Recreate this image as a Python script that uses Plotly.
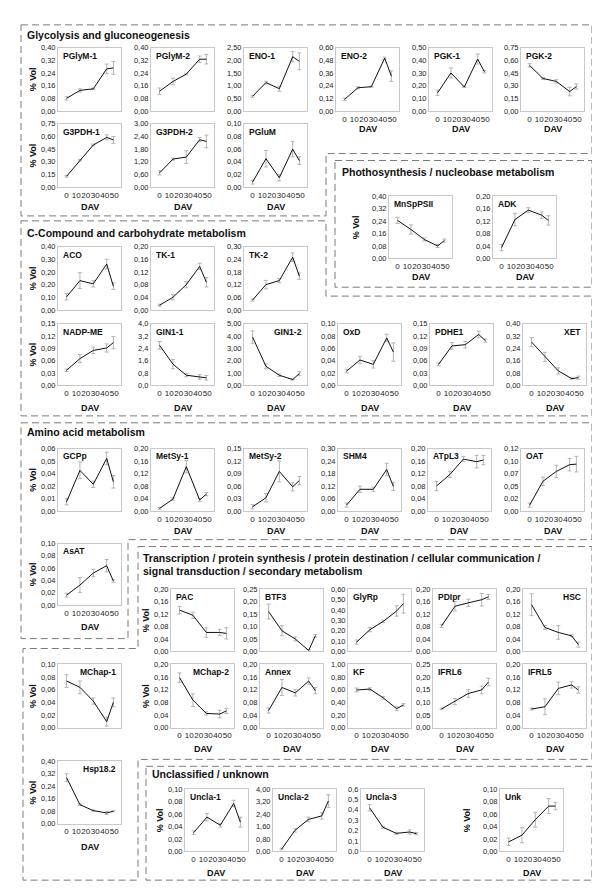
import plotly.graph_objects as go

W, H = 600, 891
DAV = [0, 14, 28, 42, 49]
DAV_TICKS = [0, 10, 20, 30, 40, 50]
DAV_LABELS = ["0", "10", "20", "30", "40", "50"]

# ---------------- data (% Vol, mean and error) ----------------
pglym1_y = [0.08, 0.13, 0.14, 0.266, 0.272]
pglym1_e = [0.01, 0.01, 0.004, 0.03, 0.04]
pglym1_t = ["0,00", "0,08", "0,16", "0,24", "0,32", "0,40"]
pglym1_max = 0.40

pglym2_y = [0.125, 0.186, 0.233, 0.327, 0.327]
pglym2_e = [0.02, 0.02, 0.005, 0.02, 0.03]
pglym2_t = ["0,00", "0,08", "0,16", "0,24", "0,32", "0,40"]
pglym2_max = 0.40

eno1_y = [0.58, 1.12, 0.88, 2.14, 1.96]
eno1_e = [0.04, 0.05, 0.1, 0.2, 0.33]
eno1_t = ["0,00", "0,50", "1,00", "1,50", "2,00", "2,50"]
eno1_max = 2.50

eno2_y = [0.11, 0.22, 0.23, 0.50, 0.33]
eno2_e = [0.012, 0.01, 0.004, 0.01, 0.05]
eno2_t = ["0,00", "0,12", "0,24", "0,36", "0,48", "0,60"]
eno2_max = 0.60

pgk1_y = [0.144, 0.30, 0.19, 0.41, 0.31]
pgk1_e = [0.02, 0.04, 0.005, 0.04, 0.01]
pgk1_t = ["0,00", "0,10", "0,20", "0,30", "0,40", "0,50"]
pgk1_max = 0.50

pgk2_y = [0.54, 0.385, 0.35, 0.23, 0.29]
pgk2_e = [0.02, 0.01, 0.02, 0.05, 0.03]
pgk2_t = ["0,00", "0,15", "0,30", "0,45", "0,60", "0,75"]
pgk2_max = 0.75

g3pdh1_y = [0.13, 0.32, 0.50, 0.59, 0.56]
g3pdh1_e = [0.01, 0.01, 0.01, 0.03, 0.04]
g3pdh1_t = ["0,00", "0,15", "0,30", "0,45", "0,60", "0,75"]
g3pdh1_max = 0.75

g3pdh2_y = [0.68, 1.33, 1.43, 2.25, 2.17]
g3pdh2_e = [0.1, 0.05, 0.3, 0.1, 0.3]
g3pdh2_t = ["0,00", "0,60", "1,20", "1,80", "2,40", "3,00"]
g3pdh2_max = 3.00

pglum_y = [0.008, 0.045, 0.015, 0.06, 0.042]
pglum_e = [0.003, 0.013, 0.005, 0.012, 0.006]
pglum_t = ["0,00", "0,02", "0,04", "0,06", "0,08", "0,10"]
pglum_max = 0.10

mnsp_y = [0.244, 0.186, 0.122, 0.08, 0.115]
mnsp_e = [0.02, 0.03, 0.01, 0.01, 0.01]
mnsp_t = ["0,00", "0,08", "0,16", "0,24", "0,32", "0,40"]
mnsp_max = 0.40

adk_y = [0.035, 0.125, 0.155, 0.139, 0.122]
adk_e = [0.01, 0.02, 0.008, 0.01, 0.015]
adk_t = ["0,00", "0,04", "0,08", "0,12", "0,16", "0,20"]
adk_max = 0.20

aco_y = [0.083, 0.185, 0.165, 0.29, 0.15]
aco_e = [0.02, 0.05, 0.02, 0.03, 0.02]
aco_t = ["0,00", "0,10", "0,20", "0,20", "0,30", "0,40"]
aco_max = 0.40

tk1_y = [0.015, 0.04, 0.08, 0.1375, 0.0875]
tk1_e = [0.003, 0.008, 0.01, 0.01, 0.015]
tk1_t = ["0,00", "0,04", "0,08", "0,12", "0,16", "0,20"]
tk1_max = 0.20

tk2_y = [0.047, 0.12, 0.139, 0.25, 0.16]
tk2_e = [0.005, 0.02, 0.01, 0.02, 0.015]
tk2_t = ["0,00", "0,06", "0,12", "0,18", "0,24", "0,30"]
tk2_max = 0.30

nadp_y = [0.0365, 0.065, 0.085, 0.091, 0.104]
nadp_e = [0.003, 0.01, 0.008, 0.01, 0.015]
nadp_t = ["0,00", "0,03", "0,06", "0,09", "0,12", "0,15"]
nadp_max = 0.15

gin11_y = [2.6, 1.37, 0.65, 0.54, 0.48]
gin11_e = [0.25, 0.3, 0.1, 0.15, 0.15]
gin11_t = ["0,0", "0,8", "1,6", "2,4", "3,2", "4,0"]
gin11_max = 4.0

gin12_y = [3.92, 1.54, 0.81, 0.46, 0.95]
gin12_e = [0.5, 0.2, 0.1, 0.05, 0.15]
gin12_t = ["0,00", "1,00", "2,00", "3,00", "4,00", "5,00"]
gin12_max = 5.00

oxd_y = [0.023, 0.041, 0.034, 0.077, 0.054]
oxd_e = [0.003, 0.006, 0.006, 0.006, 0.015]
oxd_t = ["0,00", "0,02", "0,04", "0,06", "0,08", "0,10"]
oxd_max = 0.10

pdhe1_y = [0.051, 0.096, 0.099, 0.124, 0.109]
pdhe1_e = [0.003, 0.008, 0.008, 0.008, 0.004]
pdhe1_t = ["0,00", "0,03", "0,06", "0,09", "0,12", "0,15"]
pdhe1_max = 0.15

xet_y = [0.281, 0.184, 0.093, 0.043, 0.049]
xet_e = [0.03, 0.03, 0.02, 0.005, 0.01]
xet_t = ["0,00", "0,08", "0,16", "0,24", "0,32", "0,40"]
xet_max = 0.40

gcpp_y = [0.0088, 0.039, 0.0256, 0.0505, 0.028]
gcpp_e = [0.003, 0.008, 0.003, 0.006, 0.006]
gcpp_t = ["0,00", "0,01", "0,02", "0,04", "0,05", "0,06"]
gcpp_max = 0.06

metsy1_y = [0.008, 0.038, 0.142, 0.035, 0.054]
metsy1_e = [0.003, 0.004, 0.02, 0.005, 0.005]
metsy1_t = ["0,00", "0,04", "0,08", "0,12", "0,16", "0,20"]
metsy1_max = 0.20

metsy2_y = [0.01, 0.0316, 0.095, 0.058, 0.073]
metsy2_e = [0.005, 0.01, 0.025, 0.01, 0.01]
metsy2_t = ["0,00", "0,03", "0,06", "0,09", "0,12", "0,15"]
metsy2_max = 0.15

shm4_y = [0.028, 0.104, 0.104, 0.199, 0.118]
shm4_e = [0.01, 0.015, 0.01, 0.03, 0.02]
shm4_t = ["0,00", "0,06", "0,12", "0,18", "0,24", "0,30"]
shm4_max = 0.30

atpl3_y = [0.08, 0.117, 0.166, 0.158, 0.163]
atpl3_e = [0.015, 0.01, 0.008, 0.02, 0.015]
atpl3_t = ["0,00", "0,04", "0,08", "0,12", "0,16", "0,20"]
atpl3_max = 0.20

oat_y = [0.011, 0.057, 0.076, 0.089, 0.090]
oat_e = [0.004, 0.008, 0.012, 0.012, 0.015]
oat_t = ["0,00", "0,02", "0,05", "0,07", "0,10", "0,12"]
oat_max = 0.12

asat_y = [0.016, 0.0324, 0.052, 0.064, 0.039]
asat_e = [0.003, 0.012, 0.006, 0.01, 0.002]
asat_t = ["0,00", "0,02", "0,04", "0,06", "0,08", "0,10"]
asat_max = 0.10

pac_y = [0.1326, 0.116, 0.061, 0.061, 0.058]
pac_e = [0.012, 0.01, 0.015, 0.01, 0.018]
pac_t = ["0,00", "0,04", "0,08", "0,12", "0,16", "0,20"]
pac_max = 0.20

btf3_y = [0.16, 0.083, 0.05, 0.004, 0.063]
btf3_e = [0.03, 0.02, 0.008, 0.003, 0.005]
btf3_t = ["0,00", "0,05", "0,10", "0,15", "0,20", "0,25"]
btf3_max = 0.25

glyrp_y = [0.09, 0.21, 0.29, 0.39, 0.46]
glyrp_e = [0.02, 0.02, 0.01, 0.05, 0.09]
glyrp_t = ["0,00", "0,10", "0,20", "0,30", "0,40", "0,50", "0,60"]
glyrp_max = 0.60

pdipr_y = [0.082, 0.145, 0.156, 0.166, 0.175]
pdipr_e = [0.005, 0.015, 0.012, 0.02, 0.008]
pdipr_t = ["0,00", "0,04", "0,08", "0,12", "0,16", "0,20"]
pdipr_max = 0.20

hsc_y = [0.15, 0.077, 0.061, 0.05, 0.022]
hsc_e = [0.035, 0.006, 0.022, 0.003, 0.008]
hsc_t = ["0,00", "0,04", "0,08", "0,12", "0,16", "0,20"]
hsc_max = 0.20

mchap1_y = [0.0737, 0.0637, 0.042, 0.0095, 0.04]
mchap1_e = [0.01, 0.01, 0.005, 0.007, 0.007]
mchap1_t = ["0,00", "0,02", "0,04", "0,06", "0,08", "0,10"]
mchap1_max = 0.10

mchap2_y = [0.158, 0.087, 0.045, 0.043, 0.053]
mchap2_e = [0.015, 0.02, 0.005, 0.012, 0.008]
mchap2_t = ["0,00", "0,04", "0,08", "0,12", "0,16", "0,20"]
mchap2_max = 0.20

annex_y = [0.054, 0.127, 0.11, 0.147, 0.117]
annex_e = [0.008, 0.025, 0.01, 0.01, 0.01]
annex_t = ["0,00", "0,04", "0,08", "0,12", "0,16", "0,20"]
annex_max = 0.20

kf_y = [0.595, 0.61, 0.47, 0.30, 0.36]
kf_e = [0.03, 0.02, 0.02, 0.03, 0.02]
kf_t = ["0,00", "0,20", "0,40", "0,60", "0,80", "1,00"]
kf_max = 1.00

ifrl6_y = [0.074, 0.103, 0.135, 0.149, 0.18]
ifrl6_e = [0.003, 0.012, 0.015, 0.015, 0.015]
ifrl6_t = ["0,00", "0,05", "0,10", "0,15", "0,20", "0,25"]
ifrl6_max = 0.25

ifrl5_y = [0.059, 0.066, 0.124, 0.135, 0.119]
ifrl5_e = [0.003, 0.025, 0.02, 0.01, 0.01]
ifrl5_t = ["0,00", "0,04", "0,08", "0,12", "0,16", "0,20"]
ifrl5_max = 0.20

hsp_y = [0.295, 0.122, 0.084, 0.069, 0.08]
hsp_e = [0.025, 0.005, 0.004, 0.01, 0.003]
hsp_t = ["0,00", "0,08", "0,16", "0,24", "0,32", "0,40"]
hsp_max = 0.40

uncla1_y = [0.03, 0.055, 0.042, 0.077, 0.047]
uncla1_e = [0.003, 0.006, 0.003, 0.005, 0.008]
uncla1_t = ["0,00", "0,02", "0,04", "0,06", "0,08", "0,10"]
uncla1_max = 0.10

uncla2_y = [0.15, 1.35, 2.05, 2.28, 3.23]
uncla2_e = [0.05, 0.1, 0.15, 0.2, 0.4]
uncla2_t = ["0,00", "0,80", "1,60", "2,40", "3,20", "4,00"]
uncla2_max = 4.00

uncla3_y = [0.42, 0.233, 0.174, 0.187, 0.171]
uncla3_e = [0.03, 0.01, 0.01, 0.02, 0.01]
uncla3_t = ["0,0", "0,1", "0,2", "0,3", "0,4", "0,5", "0,6"]
uncla3_max = 0.6

unk_y = [0.0153, 0.026, 0.051, 0.0727, 0.0727]
unk_e = [0.006, 0.012, 0.012, 0.012, 0.006]
unk_t = ["0,00", "0,02", "0,04", "0,06", "0,08", "0,10"]
unk_max = 0.10

# ---------------- layout (pixels) ----------------
PW = 63
# row: (top, bottom, DAV label y)
R_G1 = (36, 100, 118)
R_G2 = (113, 177, 197)
R_PH = (186, 249, 268)
R_C1 = (237, 301, 320)
R_C2 = (315, 377, 400)
R_A1 = (441, 504, 524)
R_AS = (537, 599, 621)
R_T1 = (583, 646, 665)
R_T2 = (659, 723, 745)
R_HS = (757, 820, 844)
R_UN = (785, 848, 870)

# (title, y, err, ticks, ymax, left, row, show x labels, ylabel x offset or None, title align)
panels = [
    ("PGlyM-1", pglym1_y, pglym1_e, pglym1_t, pglym1_max, 50, R_G1, False, 25, "l"),
    ("PGlyM-2", pglym2_y, pglym2_e, pglym2_t, pglym2_max, 143, R_G1, False, None, "l"),
    ("ENO-1", eno1_y, eno1_e, eno1_t, eno1_max, 236, R_G1, False, None, "l"),
    ("ENO-2", eno2_y, eno2_e, eno2_t, eno2_max, 328, R_G1, True, None, "l"),
    ("PGK-1", pgk1_y, pgk1_e, pgk1_t, pgk1_max, 421, R_G1, True, None, "l"),
    ("PGK-2", pgk2_y, pgk2_e, pgk2_t, pgk2_max, 513, R_G1, True, None, "l"),
    ("G3PDH-1", g3pdh1_y, g3pdh1_e, g3pdh1_t, g3pdh1_max, 50, R_G2, True, 25, "l"),
    ("G3PDH-2", g3pdh2_y, g3pdh2_e, g3pdh2_t, g3pdh2_max, 143, R_G2, True, None, "l"),
    ("PGluM", pglum_y, pglum_e, pglum_t, pglum_max, 236, R_G2, True, None, "l"),
    ("MnSpPSII", mnsp_y, mnsp_e, mnsp_t, mnsp_max, 381, R_PH, True, 33, "l"),
    ("ADK", adk_y, adk_e, adk_t, adk_max, 485, R_PH, True, None, "l"),
    ("ACO", aco_y, aco_e, aco_t, aco_max, 50, R_C1, False, 25, "l"),
    ("TK-1", tk1_y, tk1_e, tk1_t, tk1_max, 143, R_C1, False, None, "l"),
    ("TK-2", tk2_y, tk2_e, tk2_t, tk2_max, 236, R_C1, False, None, "l"),
    ("NADP-ME", nadp_y, nadp_e, nadp_t, nadp_max, 50, R_C2, True, 25, "l"),
    ("GIN1-1", gin11_y, gin11_e, gin11_t, gin11_max, 143, R_C2, True, None, "l"),
    ("GIN1-2", gin12_y, gin12_e, gin12_t, gin12_max, 236, R_C2, True, None, "r"),
    ("OxD", oxd_y, oxd_e, oxd_t, oxd_max, 330, R_C2, True, None, "l"),
    ("PDHE1", pdhe1_y, pdhe1_e, pdhe1_t, pdhe1_max, 422, R_C2, True, None, "l"),
    ("XET", xet_y, xet_e, xet_t, xet_max, 515, R_C2, True, None, "r"),
    ("GCPp", gcpp_y, gcpp_e, gcpp_t, gcpp_max, 50, R_A1, False, 25, "l"),
    ("MetSy-1", metsy1_y, metsy1_e, metsy1_t, metsy1_max, 143, R_A1, True, None, "l"),
    ("MetSy-2", metsy2_y, metsy2_e, metsy2_t, metsy2_max, 236, R_A1, True, None, "l"),
    ("SHM4", shm4_y, shm4_e, shm4_t, shm4_max, 330, R_A1, True, None, "l"),
    ("ATpL3", atpl3_y, atpl3_e, atpl3_t, atpl3_max, 420, R_A1, True, None, "l"),
    ("OAT", oat_y, oat_e, oat_t, oat_max, 513, R_A1, True, None, "l"),
    ("AsAT", asat_y, asat_e, asat_t, asat_max, 50, R_AS, True, 25, "l"),
    ("PAC", pac_y, pac_e, pac_t, pac_max, 163, R_T1, False, 25, "l"),
    ("BTF3", btf3_y, btf3_e, btf3_t, btf3_max, 252, R_T1, False, None, "l"),
    ("GlyRp", glyrp_y, glyrp_e, glyrp_t, glyrp_max, 340, R_T1, False, None, "l"),
    ("PDIpr", pdipr_y, pdipr_e, pdipr_t, pdipr_max, 425, R_T1, False, None, "l"),
    ("HSC", hsc_y, hsc_e, hsc_t, hsc_max, 515, R_T1, False, None, "r"),
    ("MChap-1", mchap1_y, mchap1_e, mchap1_t, mchap1_max, 50, R_T2, False, 25, "r"),
    ("MChap-2", mchap2_y, mchap2_e, mchap2_t, mchap2_max, 163, R_T2, True, 25, "r"),
    ("Annex", annex_y, annex_e, annex_t, annex_max, 252, R_T2, True, None, "l"),
    ("KF", kf_y, kf_e, kf_t, kf_max, 340, R_T2, True, None, "l"),
    ("IFRL6", ifrl6_y, ifrl6_e, ifrl6_t, ifrl6_max, 425, R_T2, True, None, "l"),
    ("IFRL5", ifrl5_y, ifrl5_e, ifrl5_t, ifrl5_max, 515, R_T2, True, None, "l"),
    ("Hsp18.2", hsp_y, hsp_e, hsp_t, hsp_max, 50, R_HS, True, 25, "r"),
    ("Uncla-1", uncla1_y, uncla1_e, uncla1_t, uncla1_max, 177, R_UN, True, 25, "l"),
    ("Uncla-2", uncla2_y, uncla2_e, uncla2_t, uncla2_max, 265, R_UN, True, None, "l"),
    ("Uncla-3", uncla3_y, uncla3_e, uncla3_t, uncla3_max, 353, R_UN, True, None, "l"),
    ("Unk", unk_y, unk_e, unk_t, unk_max, 492, R_UN, True, 33, "l"),
]

sections = [
    ("Glycolysis and gluconeogenesis", 17, 23),
    ("Phothosynthesis / nucleobase metabolism", 332, 162),
    ("C-Compound and carbohydrate metabolism", 17, 223),
    ("Amino acid metabolism", 17, 424),
    ("Transcription / protein synthesis / protein destination / cellular communication /", 133, 552),
    ("signal transduction / secondary metabolism", 133, 565),
    ("Unclassified / unknown", 142, 770),
]

boxes = [
    "M13,13 L584,13 L584,143 L318,143 L318,206 L13,206 Z",
    "M327,150 L584,150 L584,278 L327,278 Z",
    "M13,211 L318,211 L318,287 L584,287 L584,408 L13,408 Z",
    "M13,415 L584,415 L584,533 L120,533 L120,633 L13,633 Z",
    "M130,540 L584,540 L584,755 L130,755 L130,877 L15,877 L15,643 L130,643 Z",
    "M138,762 L584,762 L584,877 L138,877 Z",
]

FONT = "Liberation Sans, Arial, sans-serif"
fx = lambda v: v / W
fy = lambda v: 1 - v / H

fig = go.Figure()
layout = dict(
    width=W, height=H, margin=dict(l=0, r=0, t=0, b=0),
    paper_bgcolor="white", plot_bgcolor="white", showlegend=False,
    font=dict(family=FONT, color="#222"),
)
annotations = []

for i, (title, yv, ev, tk, ymax, left, row, showx, ylab, align) in enumerate(panels, start=1):
    top, bot, davy = row
    sfx = "" if i == 1 else str(i)
    n = len(tk)
    fig.add_trace(go.Scatter(
        x=DAV, y=yv, mode="lines", xaxis="x" + sfx, yaxis="y" + sfx,
        line=dict(color="#111", width=1),
        error_y=dict(type="data", array=ev, visible=True, color="#b4b4b4", thickness=1, width=2),
        hoverinfo="skip",
    ))
    layout["xaxis" + sfx] = dict(
        domain=[fx(left), fx(left + PW)], anchor="y" + sfx, range=[-9, 57],
        showgrid=False, zeroline=False, showline=True, linecolor="#c8c8c8", linewidth=1,
        mirror=True, ticks="", tickmode="array", tickvals=DAV_TICKS, ticktext=DAV_LABELS,
        tickangle=0, ticklabelstandoff=0,
        showticklabels=showx, tickfont=dict(size=8, color="#222", family=FONT), fixedrange=True,
    )
    layout["yaxis" + sfx] = dict(
        domain=[fy(bot), fy(top)], anchor="x" + sfx, range=[0, ymax],
        showgrid=False, zeroline=False, showline=True, linecolor="#c8c8c8", linewidth=1,
        mirror=True, ticks="", tickmode="array",
        tickvals=[ymax * k / (n - 1) for k in range(n)], ticktext=tk,
        tickfont=dict(size=7.5, color="#222", family=FONT), fixedrange=True,
    )
    # panel title
    if align == "l":
        annotations.append(dict(text=title, x=fx(left + 3), y=fy(top + 8), xref="paper", yref="paper",
                                xanchor="left", yanchor="middle", showarrow=False,
                                font=dict(size=8.5, family=FONT, color="#111", weight="bold")))
    else:
        annotations.append(dict(text=title, x=fx(left + PW - 3), y=fy(top + 8), xref="paper", yref="paper",
                                xanchor="right", yanchor="middle", showarrow=False,
                                font=dict(size=8.5, family=FONT, color="#111", weight="bold")))
    if showx:
        annotations.append(dict(text="DAV", x=fx(left + PW / 2), y=fy(davy), xref="paper", yref="paper",
                                xanchor="center", yanchor="middle", showarrow=False,
                                font=dict(size=9, family=FONT, color="#111", weight="bold")))
    if ylab is not None:
        annotations.append(dict(text="% Vol", x=fx(left - ylab), y=fy((top + bot) / 2), xref="paper", yref="paper",
                                xanchor="center", yanchor="middle", showarrow=False, textangle=-90,
                                font=dict(size=9, family=FONT, color="#111", weight="bold")))

for text, x, y in sections:
    annotations.append(dict(text=text, x=fx(x), y=fy(y), xref="paper", yref="paper",
                            xanchor="left", yanchor="middle", showarrow=False,
                            font=dict(size=10.5, family=FONT, color="#111", weight="bold")))

shapes = []
for p in boxes:
    parts = []
    for tok in p.split():
        if tok == "Z":
            parts.append("Z")
            continue
        cmd, xy = tok[0], tok[1:]
        xs, ys = xy.split(",")
        parts.append(f"{cmd}{fx(float(xs)):.5f},{fy(float(ys)):.5f}")
    shapes.append(dict(type="path", path=" ".join(parts), xref="paper", yref="paper",
                       line=dict(color="#7a7a7a", width=1, dash="7px,4px")))

layout["annotations"] = annotations
layout["shapes"] = shapes
fig.update_layout(**layout)
fig.write_html("out.html")
